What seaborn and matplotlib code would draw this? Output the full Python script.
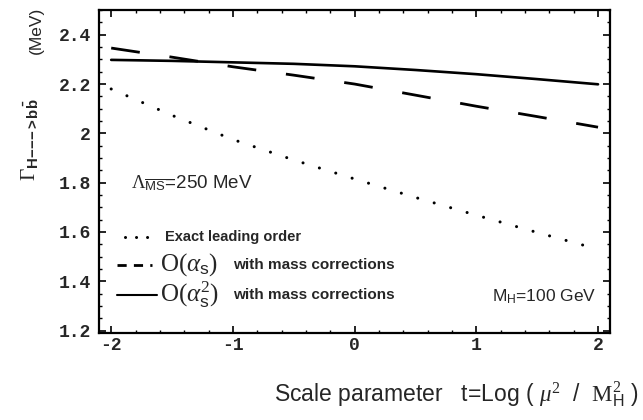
import matplotlib
matplotlib.use("Agg")
import matplotlib.pyplot as plt
import seaborn as sns
import pandas as pd
from matplotlib.ticker import MultipleLocator, FixedLocator

# ---- data ----
t_values = [-2, -1.5, -1, -0.5, 0, 0.5, 1, 1.5, 2]
exact_leading_order = [2.18, 2.073, 1.975, 1.892, 1.815, 1.740, 1.668, 1.598, 1.53]
o_alpha_s = [2.346, 2.309, 2.27, 2.236, 2.20, 2.155, 2.11, 2.068, 2.025]
o_alpha_s2 = [2.298, 2.294, 2.288, 2.282, 2.272, 2.257, 2.240, 2.220, 2.199]

x_ticks = [-2, -1, 0, 1, 2]
y_ticks = [1.2, 1.4, 1.6, 1.8, 2.0, 2.2, 2.4]
y_tick_labels = ["1.2", "1.4", "1.6", "1.8", "2", "2.2", "2.4"]

sns.set_theme(style="white")
plt.rcParams["font.family"] = ["Liberation Sans", "DejaVu Sans"]
plt.rcParams["mathtext.fontset"] = "custom"
plt.rcParams["mathtext.rm"] = "Liberation Serif"
plt.rcParams["mathtext.it"] = "Liberation Serif:italic"
plt.rcParams["mathtext.bf"] = "Liberation Sans:bold"
plt.rcParams["mathtext.sf"] = "Liberation Sans"

fig = plt.figure(figsize=(6.43, 4.20), dpi=100)
ax = fig.add_axes([0.154, 0.207, 0.795, 0.769])

df = pd.DataFrame({"t": t_values, "lo": exact_leading_order,
                   "as": o_alpha_s, "as2": o_alpha_s2})

sns.lineplot(data=df, x="t", y="lo", ax=ax, color="black", lw=2.2,
             linestyle=(0, (0.01, 5.6)), dash_capstyle="round")
sns.lineplot(data=df, x="t", y="as", ax=ax, color="black", lw=2.0,
             linestyle=(0, (10.4, 10.8)))
sns.lineplot(data=df, x="t", y="as2", ax=ax, color="black", lw=1.9)
ax.lines[0].set_dash_capstyle("round")

ax.set_xlim(-2.1, 2.1)
ax.set_ylim(1.19, 2.5)
ax.xaxis.set_major_locator(FixedLocator(x_ticks))
ax.xaxis.set_minor_locator(MultipleLocator(0.2))
ax.yaxis.set_major_locator(FixedLocator(y_ticks))
ax.yaxis.set_minor_locator(MultipleLocator(0.05))
ax.set_xticklabels([str(v) for v in x_ticks])
ax.set_yticklabels(y_tick_labels)
ax.tick_params(which="both", direction="in", top=True, right=True,
               bottom=True, left=True, color="black")
ax.tick_params(which="major", length=5, width=1.2)
ax.tick_params(which="minor", length=2.5, width=1.0)
for lab in ax.get_xticklabels() + ax.get_yticklabels():
    lab.set_family(["Liberation Mono", "DejaVu Sans Mono"])
    lab.set_weight("bold")
    lab.set_fontsize(13)
ax.tick_params(axis="x", pad=3)
ax.tick_params(axis="y", pad=6)
for sp in ax.spines.values():
    sp.set_color("black")
    sp.set_linewidth(1.6)
ax.set_xlabel("")
ax.set_ylabel("")

# y label
fig.text(29 / 643, 1 - 140 / 420,
         r"$\Gamma_{\mathbf{H{-}{-}{-}{>}b\bar{b}}}$",
         rotation=90, ha="center", va="center", fontsize=15.5)
fig.text(36 / 643, 1 - 30 / 420, "(MeV)", rotation=90, ha="center",
         va="center", fontsize=12.5)
# x label
fig.text(0.993, 0.06,
         r"Scale parameter   t=Log ( $\mu^{2}$  /  $\mathrm{M}_\mathsf{H}^{2}$ )",
         ha="right", va="center", fontsize=16.5)

# annotations
ax.text(0.063, 0.45, r"$\Lambda_{\overline{\mathsf{MS}}}$=250 MeV",
        transform=ax.transAxes, fontsize=13.5, va="baseline")
ax.text(0.768, 0.113, r"M$_\mathsf{H}$=100 GeV",
        transform=ax.transAxes, fontsize=12.5, va="center")

# legend (keys drawn in axes coordinates)
ax.plot([0.05, 0.104], [0.297, 0.297], transform=ax.transAxes, color="black",
        lw=2.2, linestyle=(0, (0.01, 3.6)), dash_capstyle="round")
ax.plot([0.035, 0.104], [0.211, 0.211], transform=ax.transAxes,
        color="black", lw=2.0, linestyle=(0, (3.3, 2.6)))
ax.plot([0.035, 0.114], [0.118, 0.118], transform=ax.transAxes,
        color="black", lw=1.5)
ax.text(0.13, 0.297, "Exact leading order", transform=ax.transAxes,
        fontsize=10.5, fontweight="bold", va="center")
ax.text(0.119, 0.211, r"$\mathrm{O}(\alpha_\mathsf{s})$", transform=ax.transAxes,
        fontsize=18, va="center")
ax.text(0.262, 0.211, "with mass corrections", transform=ax.transAxes,
        fontsize=11, fontweight="bold", va="center")
ax.text(0.119, 0.118, r"$\mathrm{O}(\alpha_\mathsf{s}^{2})$", transform=ax.transAxes,
        fontsize=18, va="center")
ax.text(0.262, 0.118, "with mass corrections", transform=ax.transAxes,
        fontsize=11, fontweight="bold", va="center")

fig.savefig("out.png", dpi=100)
